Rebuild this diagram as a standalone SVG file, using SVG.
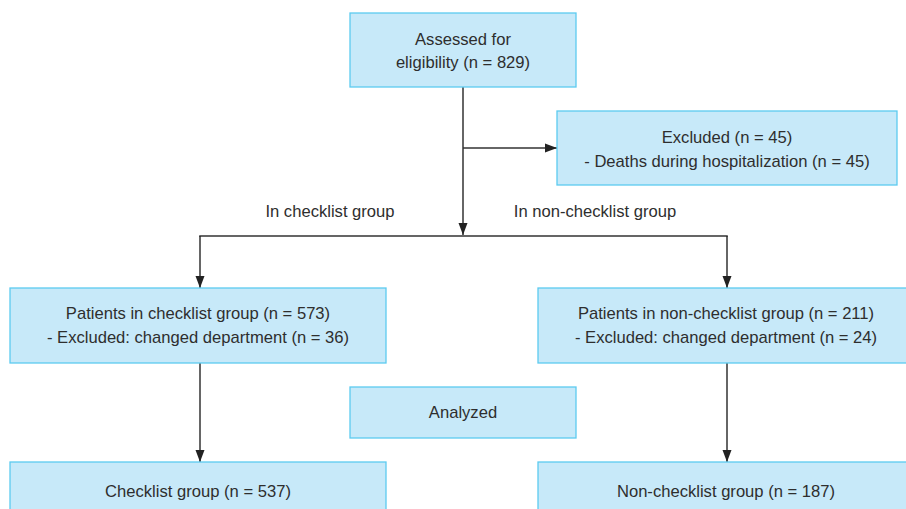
<svg xmlns="http://www.w3.org/2000/svg" width="906" height="509" viewBox="0 0 906 509">
<style>
.box{fill:#c7e9f9;stroke:#5ccbf0;stroke-width:1.3}
text{font-family:"Liberation Sans","Noto Sans",sans-serif;font-size:16.6px;fill:#2e2e2e;text-anchor:middle}
.c{stroke:#333;stroke-width:1.5;fill:none}
</style>
<defs>
<marker id="ah" viewBox="0 0 12 10" refX="12" refY="5" markerWidth="12" markerHeight="10" markerUnits="userSpaceOnUse" orient="auto">
<path d="M0,0.5 L12,5 L0,9.5 z" fill="#222"/>
</marker>
</defs>
<rect width="906" height="509" fill="#fff"/>
<g id="connectors">
<line class="c" x1="463" y1="87" x2="463" y2="235" marker-end="url(#ah)"/>
<line class="c" x1="463" y1="148" x2="557" y2="148" marker-end="url(#ah)"/>
<polyline class="c" points="200,237 200,236 727,236 727,237"/>
<line class="c" x1="200" y1="236" x2="200" y2="288" marker-end="url(#ah)"/>
<line class="c" x1="727" y1="236" x2="727" y2="288" marker-end="url(#ah)"/>
<line class="c" x1="200" y1="363" x2="200" y2="462" marker-end="url(#ah)"/>
<line class="c" x1="727" y1="363" x2="727" y2="462" marker-end="url(#ah)"/>
</g>
<g id="assessed">
<rect class="box" x="350" y="13" width="226" height="74"/>
<text x="463" y="45">Assessed for</text>
<text x="463" y="68">eligibility (n = 829)</text>
</g>
<g id="excluded">
<rect class="box" x="557" y="111" width="340" height="74"/>
<text x="727" y="143">Excluded (n = 45)</text>
<text x="727" y="167">- Deaths during hospitalization (n = 45)</text>
</g>
<g id="label-checklist"><text x="330" y="217">In checklist group</text></g>
<g id="label-nonchecklist"><text x="595" y="217">In non-checklist group</text></g>
<g id="patients-checklist">
<rect class="box" x="10" y="288" width="376" height="75"/>
<text x="198" y="319">Patients in checklist group (n = 573)</text>
<text x="198" y="343">- Excluded: changed department (n = 36)</text>
</g>
<g id="patients-nonchecklist">
<rect class="box" x="538" y="288" width="376" height="75"/>
<text x="726" y="319">Patients in non-checklist group (n = 211)</text>
<text x="726" y="343">- Excluded: changed department (n = 24)</text>
</g>
<g id="analyzed">
<rect class="box" x="350" y="387" width="226" height="51"/>
<text x="463" y="418">Analyzed</text>
</g>
<g id="checklist-group">
<rect class="box" x="10" y="462" width="376" height="60"/>
<text x="198" y="497">Checklist group (n = 537)</text>
</g>
<g id="nonchecklist-group">
<rect class="box" x="538" y="462" width="376" height="60"/>
<text x="726" y="497">Non-checklist group (n = 187)</text>
</g>
</svg>
